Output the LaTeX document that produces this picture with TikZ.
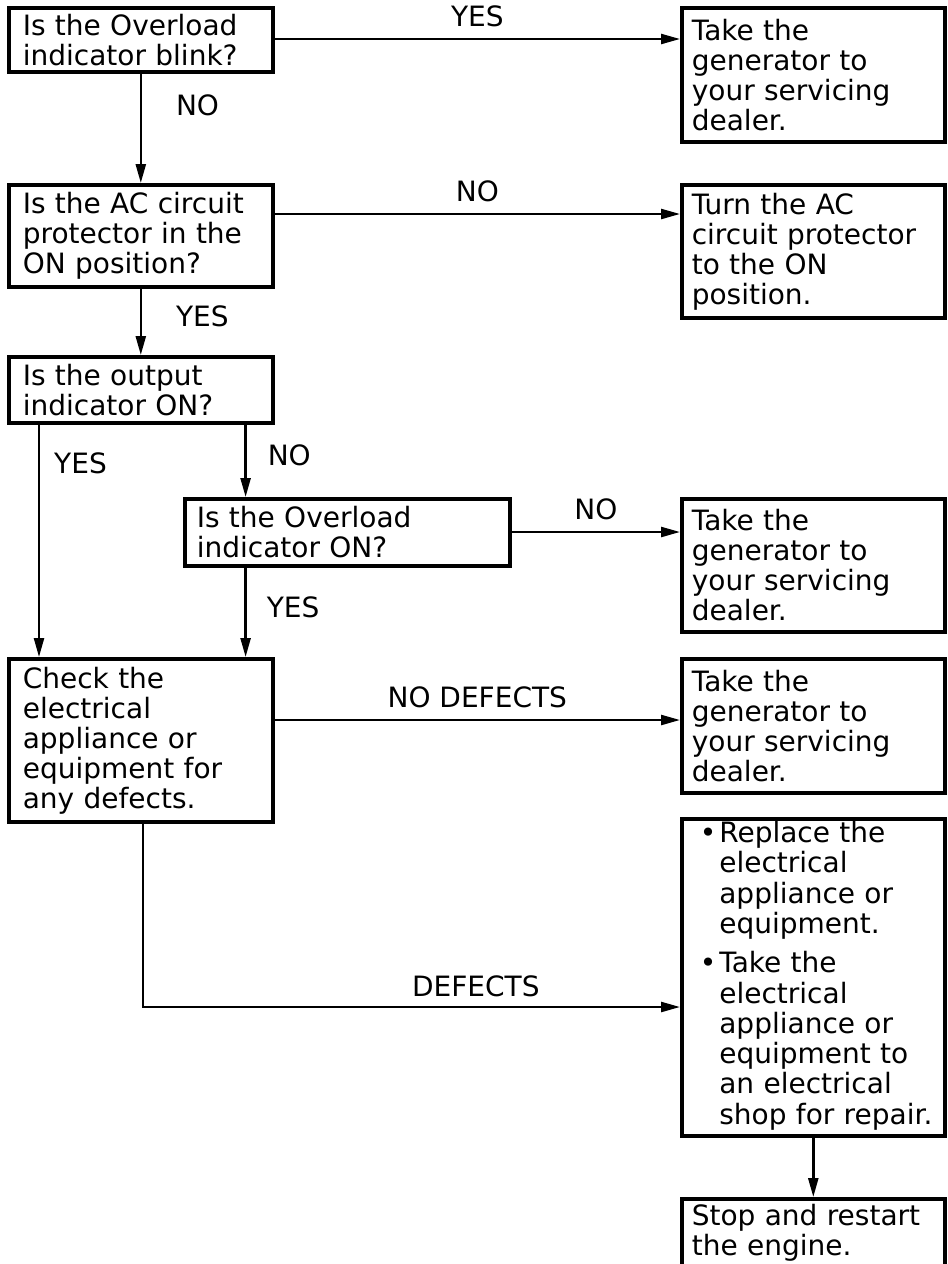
\documentclass[tikz,border=0pt]{standalone}
\usepackage{fontspec}
\setmainfont{DejaVu Sans}
\usetikzlibrary{arrows.meta}

\begin{document}
\begin{tikzpicture}[x=1pt,y=-1pt,
    box/.style={draw,line width=3.6pt,anchor=north west,align=left,
        inner xsep=14pt,inner ysep=0pt,font=\fontsize{28}{30}\selectfont},
    arr/.style={line width=2.4pt,-{Triangle[length=19pt,width=10pt]}},
    lbl/.style={inner sep=0pt,font=\fontsize{28}{30}\selectfont}]
    \useasboundingbox (0,0) rectangle (948,1264);

    \node[box,text width=236pt,minimum height=64pt] (ovlblink) at (7,6) {Is the Overload\\indicator blink?};
    \node[box,inner xsep=10pt,text width=243pt,minimum height=134pt] (dealera) at (680,6) {Take the\\generator to\\your servicing\\dealer.};

    \node[box,text width=236pt,minimum height=102pt] (acprot) at (7,183) {Is the AC circuit\\protector in the\\ON position?};
    \node[box,inner xsep=10pt,text width=243pt,minimum height=133pt] (turnon) at (680,183) {Turn the AC\\circuit protector\\to the ON\\position.};

    \node[box,text width=236pt,minimum height=66pt] (outind) at (7,355) {Is the output\\indicator ON?};

    \node[box,inner xsep=12pt,text width=301pt,minimum height=67pt] (ovlon) at (183,497) {Is the Overload\\indicator ON?};
    \node[box,inner xsep=10pt,text width=243pt,minimum height=133pt] (dealerb) at (680,497) {Take the\\generator to\\your servicing\\dealer.};

    \node[box,text width=236pt,minimum height=163pt] (check) at (7,657) {Check the\\electrical\\appliance or\\equipment for\\any defects.};
    \node[box,inner xsep=10pt,text width=243pt,minimum height=134pt] (dealerc) at (680,657) {Take the\\generator to\\your servicing\\dealer.};

    \node[box,inner xsep=9pt,text width=245pt,minimum height=317pt] (replace) at (680,817) {%
        \begin{tabular}{@{\hspace{9pt}}l@{\hspace{3pt}}l@{}}
        \textbullet & Replace the\\ & electrical\\ & appliance or\\ & equipment.\\[9pt]
        \textbullet & Take the\\ & electrical\\ & appliance or\\ & equipment to\\ & an electrical\\ & shop for repair.
        \end{tabular}};
    \node[box,inner xsep=10pt,text width=243pt,text height=27pt,text depth=44pt] (restart) at (680,1197) {Stop and restart\\the engine.};

    \draw[arr] ([yshift=-33pt]ovlblink.north east) -- node[lbl,above=11pt]{YES} ([yshift=-33pt]dealera.north west);
    \draw[arr] (ovlblink.south) -- node[lbl,right=34pt,pos=0.29]{NO} (acprot.north);
    \draw[arr] ([yshift=-31pt]acprot.north east) -- node[lbl,above=11pt]{NO} ([yshift=-31pt]turnon.north west);
    \draw[arr] (acprot.south) -- node[lbl,right=34pt,pos=0.41]{YES} (outind.north);
    \draw[arr] ([xshift=32pt]outind.south west) -- node[lbl,right=14pt,pos=0.165]{YES} ([xshift=32pt]check.north west);
    \coordinate (nobranch) at ([xshift=-29pt]outind.south east);
    \draw[arr] (nobranch) -- node[lbl,right=21pt,pos=0.42]{NO} (nobranch |- ovlon.north);
    \draw[arr] ([yshift=-35pt]ovlon.north east) -- node[lbl,above=11pt]{NO} ([yshift=-35pt]dealerb.north west);
    \draw[arr] (nobranch |- ovlon.south) -- node[lbl,right=20pt,pos=0.44]{YES} (nobranch |- check.north);
    \draw[arr] ([yshift=-63pt]check.north east) -- node[lbl,above=11pt]{NO DEFECTS} ([yshift=-63pt]dealerc.north west);
    \draw[arr] ([xshift=2pt]check.south) |- node[lbl,above=9pt,pos=0.81]{DEFECTS} ([yshift=-190pt]replace.north west);
    \draw[arr] (replace.south) -- (restart.north);
\end{tikzpicture}
\end{document}
